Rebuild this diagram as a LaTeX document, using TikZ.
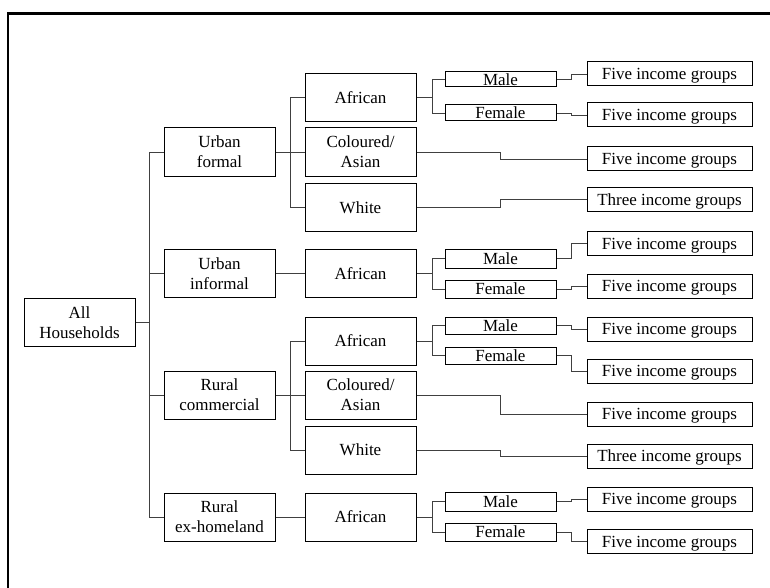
\documentclass[tikz,border=0pt]{standalone}
\usepackage{fontspec}
\setmainfont{Liberation Serif}
\begin{document}
\begin{tikzpicture}[x=1pt,y=-1pt,
  box/.style={draw=black, line width=1pt, minimum width=111pt, inner sep=0pt, align=center, font=\fontsize{17}{20}\selectfont},
  oneline/.style={text height=11.5pt, text depth=0pt},
  lv/.style={box, minimum height=48pt},
  lvone/.style={lv, oneline},
  sx/.style={box, oneline, minimum height=#1},
  inc/.style={box, oneline, minimum width=165pt, minimum height=24pt},
  conn/.style={draw=black!75, line width=0.9pt},
  frame/.style={draw=black, line width=2.5pt}]
\useasboundingbox (0,0) rectangle (770,588);
\draw[frame] (8,600) -- (8,13.5) -- (780,13.5);

% level 0
\node[lv] (all) at (79.5,322.5) {All\\Households};
% level 1
\node[lv] (uf) at (219.5,152) {Urban\\formal};
\node[lv] (ui) at (219.5,273.5) {Urban\\informal};
\node[lv] (rc) at (219.5,395) {Rural\\commercial};
\node[lv] (rh) at (219.5,517) {Rural\\ex-homeland};
% level 2
\node[lvone] (ufa) at (360.5,97.5) {African};
\node[lv] (ufc) at (360.5,152) {Coloured/\\Asian};
\node[lvone] (ufw) at (360.5,207.5) {White};
\node[lvone] (uia) at (360.5,273.5) {African};
\node[lvone] (rca) at (360.5,341) {African};
\node[lv] (rcc) at (360.5,395) {Coloured/\\Asian};
\node[lvone] (rcw) at (360.5,450) {White};
\node[lvone] (rha) at (360.5,517) {African};
% level 3
\node[sx=15pt] (ufm) at (500.5,79.5) {Male};
\node[sx=16pt] (uff) at (500.5,113) {Female};
\node[sx=19pt] (uim) at (500.5,258.5) {Male};
\node[sx=18pt] (uif) at (500.5,289) {Female};
\node[sx=17pt] (rcm) at (500.5,325.5) {Male};
\node[sx=17pt] (rcf) at (500.5,355.5) {Female};
\node[sx=19pt] (rhm) at (500.5,501.5) {Male};
\node[sx=18pt] (rhf) at (500.5,532) {Female};
% income groups
\node[inc] (i1) at (669.5,74) {Five income groups};
\node[inc] (i2) at (669.5,115) {Five income groups};
\node[inc] (i3) at (669.5,159) {Five income groups};
\node[inc] (i4) at (669.5,199.5) {Three income groups};
\node[inc] (i5) at (669.5,243.5) {Five income groups};
\node[inc] (i6) at (669.5,286) {Five income groups};
\node[inc] (i7) at (669.5,329) {Five income groups};
\node[inc] (i8) at (669.5,371) {Five income groups};
\node[inc] (i9) at (669.5,414) {Five income groups};
\node[inc] (i10) at (669.5,456) {Three income groups};
\node[inc] (i11) at (669.5,499) {Five income groups};
\node[inc] (i12) at (669.5,541.5) {Five income groups};

% trunk
\coordinate (t) at (149,322.5);
\draw[conn] (all.east) -- (t);
\foreach \n in {uf,ui,rc,rh} \draw[conn] (\n.west) -| (t);
% level 1 -> level 2
\coordinate (b1) at (290,152);
\draw[conn] (uf.east) -- (ufc.west);
\draw[conn] (ufa.west) -| (b1);
\draw[conn] (ufw.west) -| (b1);
\draw[conn] (ui.east) -- (uia.west);
\coordinate (b2) at (290,395);
\draw[conn] (rc.east) -- (rcc.west);
\draw[conn] (rca.west) -| (b2);
\draw[conn] (rcw.west) -| (b2);
\draw[conn] (rh.east) -- (rha.west);
% level 2 -> level 3
\foreach \a/\m/\f in {ufa/ufm/uff, uia/uim/uif, rca/rcm/rcf, rha/rhm/rhf} {
  \coordinate (s\a) at ([xshift=16pt]\a.east);
  \draw[conn] (\a.east) -- (s\a);
  \draw[conn] (\m.west) -| (s\a);
  \draw[conn] (\f.west) -| (s\a);
}
% level 3 -> income
\foreach \s/\i in {ufm/i1, uff/i2, uim/i5, uif/i6, rcm/i7, rcf/i8, rhm/i11, rhf/i12}
  \draw[conn] (\s.east) -| ([xshift=-15pt]\i.west) -- (\i.west);
\foreach \s/\i in {ufc/i3, ufw/i4, rcc/i9, rcw/i10}
  \draw[conn] (\s.east) -| ([xshift=-86pt]\i.west) -- (\i.west);
\end{tikzpicture}
\end{document}
